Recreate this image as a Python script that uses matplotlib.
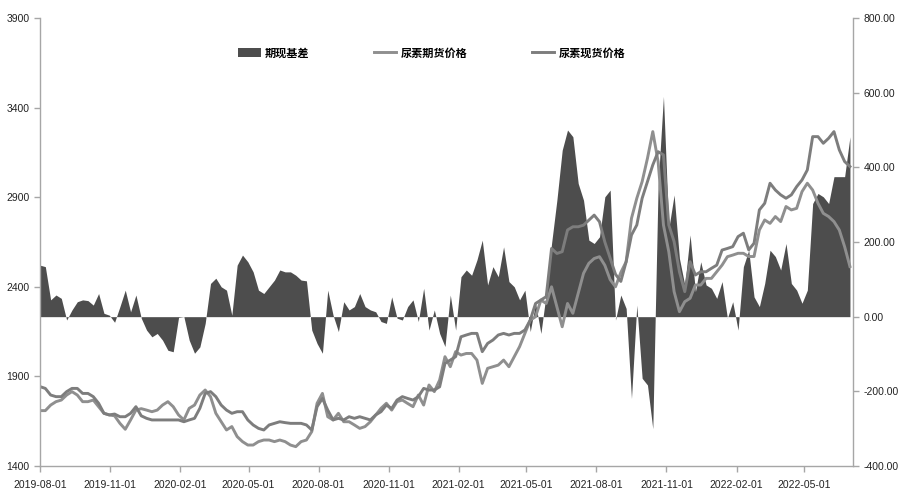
import matplotlib

matplotlib.use("Agg")
import matplotlib.pyplot as plt
import matplotlib.dates as mdates
import pandas as pd
from matplotlib.ticker import FormatStrFormatter, FixedLocator

# weekly readings, 2019-08-01 .. 2022-06-30
START = "2019-08-01"
N_WEEKS = 153

basis = [
    138, 134, 45, 58, 49, -9, 18, 40, 45, 43, 31, 62, 9, 4, -15, 27, 71, 13, 58, -4, -36, -54,
    -45, -63, -90, -94, -2, 0, -63, -98, -81, -18, 89, 103, 80, 71, 4, 138, 165, 147, 120, 71, 62, 80,
    98, 125, 120, 120, 111, 98, 96, -36, -72, -98, 71, 4, -40, 40, 18, 27, 62, 27, 18, 13, -13, -18,
    53, -4, -9, 27, 45, -13, 76, -36, 18, -45, -80, 58, -36, 107, 125, 111, 152, 205, 85, 134, 107,
    187, 94, 80, 45, 71, -40, 36, -45, 62, 196, 312, 446, 500, 482, 357, 312, 205, 196, 214, 321, 339, -9,
    58, 22, -219, 31, -165, -183, -300, 353, 590, 236, 326, 156, 85, 219, 67, 147, 85, 76, 49, 94, -4, 40,
    -36, 134, 178, 53, 27, 89, 178, 161, 125, 196, 89, 71, 36, 71, 303, 330, 321, 303, 375, 375, 375, 482,
]

futures = [
    1709, 1709, 1740, 1759, 1768, 1796, 1815, 1796, 1759, 1759, 1768, 1731, 1694, 1685, 1680, 1638,
    1605, 1657, 1712, 1720, 1712, 1703,
    1712, 1740, 1759, 1731, 1685, 1657, 1722, 1740, 1796, 1824, 1787, 1694, 1647, 1601, 1620, 1564,
    1536, 1517, 1517, 1536, 1545, 1545,
    1536, 1545, 1536, 1517, 1508, 1536, 1545, 1592, 1750, 1805, 1675, 1657, 1694, 1647, 1647, 1629,
    1610, 1620, 1647, 1685, 1722, 1750,
    1712, 1759, 1768, 1749, 1731, 1796, 1740, 1852, 1815, 1880, 2010, 1954, 2038, 2019, 2028, 2028,
    1991, 1861, 1945, 1954, 1963,
    1991, 1954, 2010, 2066, 2140, 2214, 2233, 2326, 2307, 2400, 2289, 2177, 2307, 2252, 2363, 2475,
    2531, 2558, 2568, 2520, 2440, 2400,
    2480, 2540, 2782, 2894, 2987, 3117, 3266, 3098, 2745, 2596, 2373, 2261, 2317, 2336, 2410, 2410,
    2447, 2447, 2484, 2521, 2568, 2577,
    2587, 2587, 2569, 2569, 2717, 2773, 2754, 2792, 2764, 2848, 2829, 2838, 2931, 2978, 2940, 2866,
    2810, 2792, 2764, 2717, 2624, 2513,
]

spot = [
    1843, 1833, 1796, 1787, 1787, 1815, 1833, 1833, 1805, 1805, 1787, 1750, 1694, 1685, 1690, 1675,
    1675, 1694, 1731, 1680, 1666, 1657,
    1657, 1657, 1657, 1657, 1657, 1647, 1657, 1666, 1722, 1805, 1815, 1787, 1740, 1712, 1694, 1703,
    1703, 1657, 1629, 1610, 1601, 1629,
    1638, 1647, 1642, 1638, 1638, 1638, 1629, 1601, 1731, 1777, 1712, 1657, 1666, 1657, 1675, 1666,
    1675, 1666, 1657, 1685, 1703, 1740,
    1721, 1768, 1787, 1777, 1768, 1787, 1833, 1824, 1824, 1842, 1973, 1991, 2010, 2121, 2131, 2140,
    2140, 2038, 2084, 2103, 2131,
    2140, 2131, 2140, 2140, 2159, 2214, 2307, 2326, 2345, 2614, 2586, 2596, 2717, 2735, 2735, 2744,
    2772, 2800, 2763, 2650, 2560, 2470,
    2430, 2540, 2689, 2745, 2894, 2987, 3080, 3154, 3136, 2745, 2652, 2484, 2373, 2540, 2466, 2484,
    2484, 2503, 2521, 2605, 2614, 2624,
    2680, 2699, 2606, 2643, 2829, 2866, 2978, 2940, 2913, 2894, 2913, 2959, 2996, 3052, 3238, 3238,
    3201, 3229, 3266, 3164, 3099, 3071,
]

x_ticks = ["2019-08-01", "2019-11-01", "2020-02-01", "2020-05-01", "2020-08-01", "2020-11-01",
           "2021-02-01", "2021-05-01", "2021-08-01", "2021-11-01", "2022-02-01", "2022-05-01"]
left_ticks = [1400, 1900, 2400, 2900, 3400, 3900]
right_ticks = [-400, -200, 0, 200, 400, 600, 800]

dates = pd.date_range(START, periods=N_WEEKS, freq="7D")

plt.rcParams["font.family"] = ["Liberation Sans", "DejaVu Sans"]
cjk = ["Noto Sans CJK SC", "DejaVu Sans"]
axis_grey = "#a6a6a6"

fig = plt.figure(figsize=(9, 4.94), dpi=100)
ax = fig.add_axes([40 / 900, 28 / 494, 813 / 900, 448 / 494])
ax2 = ax.twinx()
ax.set_zorder(ax2.get_zorder() + 1)
ax.patch.set_visible(False)

ax2.fill_between(dates, 0, basis, color="#4d4d4d", linewidth=0, label="期现基差")
ax.plot(dates, futures, color="#8f8f8f", linewidth=2.1, label="尿素期货价格")
ax.plot(dates, spot, color="#7d7d7d", linewidth=2.1, label="尿素现货价格")

ax.set_ylim(1400, 3900)
ax.yaxis.set_major_locator(FixedLocator(left_ticks))
ax2.set_ylim(-400, 800)
ax2.yaxis.set_major_locator(FixedLocator(right_ticks))
ax2.yaxis.set_major_formatter(FormatStrFormatter("%.2f"))

ax.set_xlim(pd.Timestamp(START), pd.Timestamp("2022-07-04"))
ax.set_xticks(pd.to_datetime(x_ticks))
ax.xaxis.set_major_formatter(mdates.DateFormatter("%Y-%m-%d"))

for a in (ax, ax2):
    a.spines["top"].set_visible(False)
    for s in ("left", "right", "bottom"):
        a.spines[s].set_color(axis_grey)
        a.spines[s].set_linewidth(1.0)
    a.tick_params(axis="both", colors=axis_grey, labelcolor="#222222", labelsize=7.5,
                  length=4, width=1.0, direction="out")
ax.spines["right"].set_visible(False)
ax2.spines["left"].set_visible(False)
ax2.spines["bottom"].set_visible(False)
ax.tick_params(axis="x", pad=6)

h1, l1 = ax2.get_legend_handles_labels()
h2, l2 = ax.get_legend_handles_labels()
ax.legend(h1 + h2, l1 + l2, loc="center", bbox_to_anchor=(0.482, 0.922), ncol=3,
          frameon=False, prop={"family": cjk, "size": 8, "weight": "bold"},
          handlelength=2.0, handleheight=0.9, columnspacing=5.8, handletextpad=0.4)

fig.savefig("out.png")
